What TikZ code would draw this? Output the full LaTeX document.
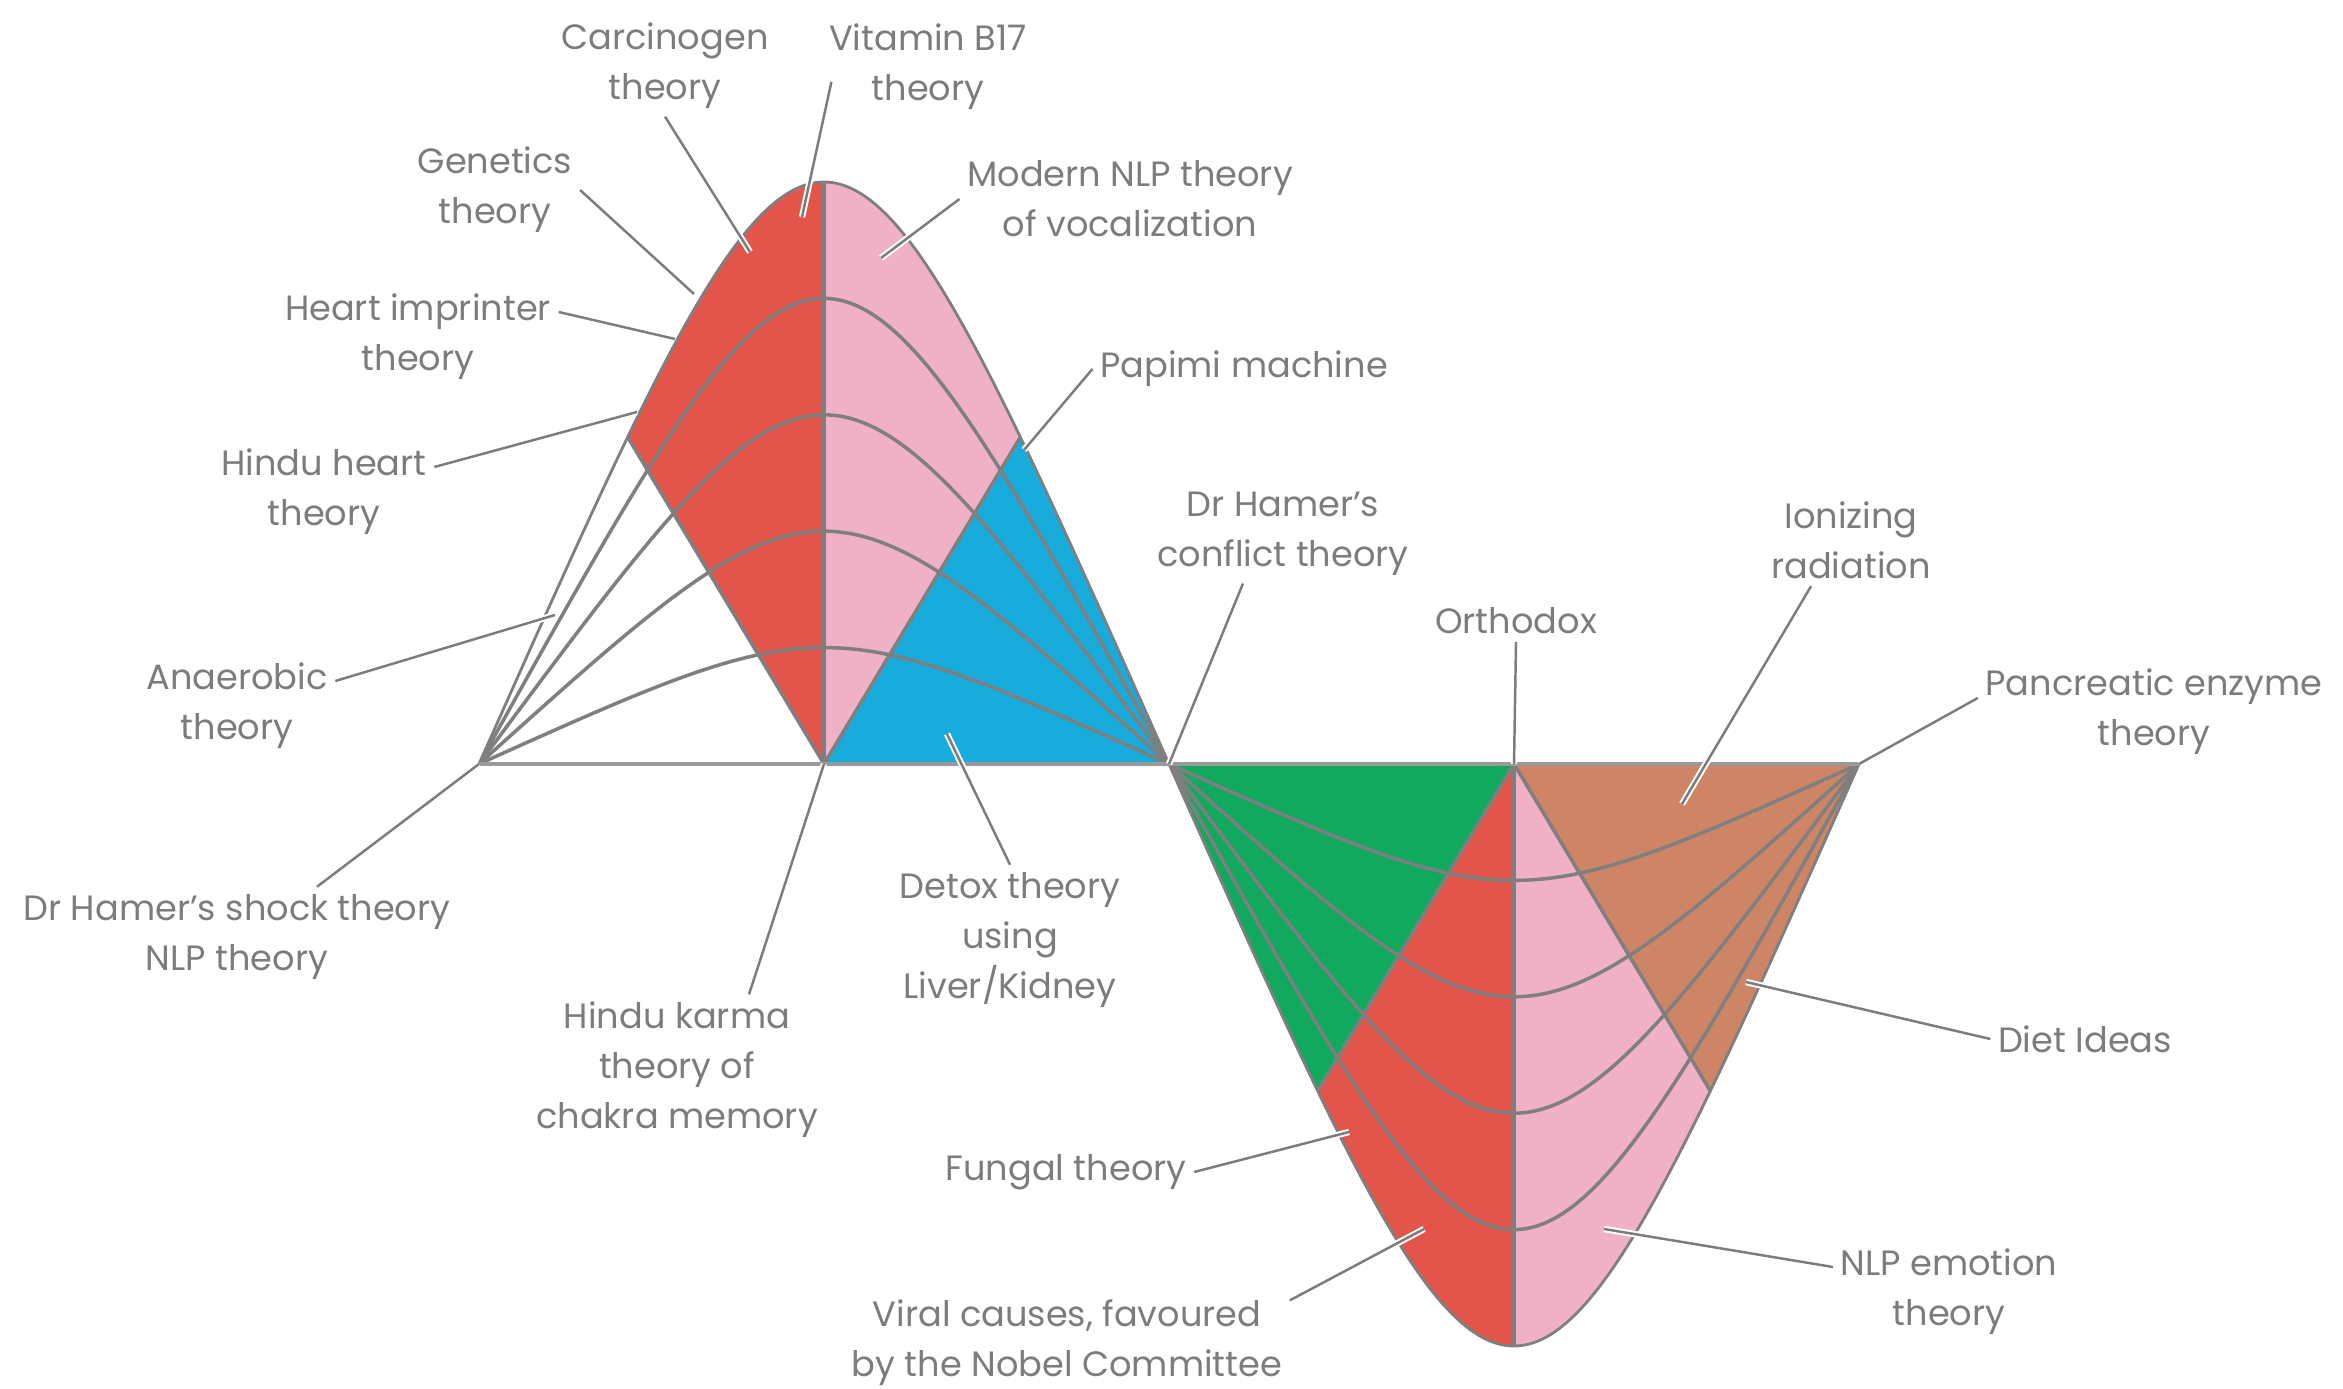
\documentclass[tikz,border=0pt]{standalone}
\usepackage{fontspec}
\setmainfont{Poppins}
\usetikzlibrary{calc}
\definecolor{redfill}{HTML}{E3554A}
\definecolor{pinkfill}{HTML}{F0B1C7}
\definecolor{bluefill}{HTML}{17ACDC}
\definecolor{greenfill}{HTML}{10A95D}
\definecolor{brownfill}{HTML}{CD8566}
\definecolor{wavegray}{HTML}{7F7F7F}
\definecolor{labelgray}{HTML}{7C7C7C}
\begin{document}
\begin{tikzpicture}[x=0.01cm, y=-0.01cm, font=\fontsize{10}{14.2}\selectfont]
    \tikzstyle{wave} = [draw=wavegray, line width=0.8pt]
    \tikzstyle{grid} = [draw=wavegray, line width=1pt]
    \tikzstyle{base} = [draw=wavegray!80, line width=1pt]
    \tikzstyle{label} = [text=labelgray, align=center, inner sep=2pt]
    \tikzstyle{pointer} = [draw=labelgray, line width=0.7pt, preaction={draw=white, line width=1.8pt}]
    \useasboundingbox (0, 0) rectangle (2343, 1389);

    \coordinate (O) at (479, 764);
    \coordinate (A) at (824, 764);
    \coordinate (C) at (1169, 764);
    \coordinate (B) at (1514, 764);
    \coordinate (E) at (1859, 764);
    \coordinate (top) at (824, 182);
    \coordinate (bottom) at (1514, 1346);

    % upper lobe
    \begin{scope}
        \clip (O) .. controls (824, -12) and (824, -12) .. (C) -- cycle;
        \fill[redfill] (A) -- (430, 108) -- (430, -100) -- (824, -100) -- cycle;
        \fill[pinkfill] (A) -- (824, -100) -- (1218, -100) -- (1218, 108) -- cycle;
        \fill[bluefill] (A) -- (1218, 108) -- (1400, 108) -- (1400, 764) -- cycle;
        \foreach \k in {0.2, 0.4, 0.6, 0.8}
            \draw[grid] (O) .. controls (824, {764 - 776*\k}) and (824, {764 - 776*\k}) .. (C);
        \draw[grid] (430, 108) -- (A) -- (1218, 108);
    \end{scope}
    \draw[grid] (A) -- (top);
    \draw[wave] (O) .. controls (824, -12) and (824, -12) .. (C);

    % lower lobe
    \begin{scope}
        \clip (C) .. controls (1514, 1540) and (1514, 1540) .. (E) -- cycle;
        \fill[greenfill] (B) -- (1120, 1420) -- (1000, 1420) -- (1000, 764) -- cycle;
        \fill[redfill] (B) -- (1120, 1420) -- (1120, 1500) -- (1514, 1500) -- cycle;
        \fill[pinkfill] (B) -- (1514, 1500) -- (1908, 1500) -- (1908, 1420) -- cycle;
        \fill[brownfill] (B) -- (1908, 1420) -- (2000, 1420) -- (2000, 764) -- cycle;
        \foreach \k in {0.2, 0.4, 0.6, 0.8}
            \draw[grid] (C) .. controls (1514, {764 + 776*\k}) and (1514, {764 + 776*\k}) .. (E);
        \draw[grid] (1120, 1420) -- (B) -- (1908, 1420);
    \end{scope}
    \draw[grid] (B) -- (bottom);
    \draw[wave] (C) .. controls (1514, 1540) and (1514, 1540) .. (E);
    \draw[base] (O) -- (E);

    % labels
    \node[label] (carc) at (665, 66) {Carcinogen\\theory};
    \node[label] (vit) at (928, 67) {Vitamin B17\\theory};
    \node[label] (gen) at (495, 190) {Genetics\\theory};
    \node[label] (mod) at (1130, 199) {Modern NLP theory\\of vocalization};
    \node[label] (heart) at (418, 337) {Heart imprinter\\theory};
    \node[label] (pap) at (1244, 369) {Papimi machine};
    \node[label] (hheart) at (324, 492) {Hindu heart\\theory};
    \node[label] (conf) at (1283, 534) {Dr Hamer’s\\conflict theory};
    \node[label] (ion) at (1851, 540) {Ionizing\\radiation};
    \node[label] (orth) at (1516, 621) {Orthodox};
    \node[label] (anaer) at (237, 706) {Anaerobic\\theory};
    \node[label] (panc) at (2154, 712) {Pancreatic enzyme\\theory};
    \node[label] (shock) at (237, 937) {Dr Hamer’s shock theory\\NLP theory};
    \node[label] (detox) at (1010, 940) {Detox theory\\using\\Liver/Kidney};
    \node[label] (karma) at (677, 1070) {Hindu karma\\theory of\\chakra memory};
    \node[label] (diet) at (2085, 1039) {Diet Ideas};
    \node[label] (fung) at (1066, 1172) {Fungal theory};
    \node[label] (viral) at (1067, 1343) {Viral causes, favoured\\by the Nobel Committee};
    \node[label] (nlpe) at (1949, 1292) {NLP emotion\\theory};

    % pointer ends
    \coordinate (carc-end) at (750, 252);
    \coordinate (vit-end) at (802, 217);
    \coordinate (gen-end) at (694, 294);
    \coordinate (mod-end) at (881, 258);
    \coordinate (heart-end) at (675, 339);
    \coordinate (pap-end) at (1024, 450);
    \coordinate (hheart-end) at (637, 412);
    \coordinate (ion-end) at (1682, 804);
    \coordinate (anaer-end) at (555, 615);
    \coordinate (detox-end) at (947, 734);
    \coordinate (diet-end) at (1746, 982);
    \coordinate (fung-end) at (1349, 1132);
    \coordinate (viral-end) at (1424, 1229);
    \coordinate (nlpe-end) at (1604, 1229);

    \draw[pointer] (carc.south) -- (carc-end);
    \draw[pointer] ($(vit.west) + (10, 15)$) -- (vit-end);
    \draw[pointer] (gen.east) -- (gen-end);
    \draw[pointer] (mod.west) -- (mod-end);
    \draw[pointer] ($(heart.east) + (0, -25)$) -- (heart-end);
    \draw[pointer] (pap.west) -- (pap-end);
    \draw[pointer] ($(hheart.east) + (0, -25)$) -- (hheart-end);
    \draw[pointer] ($(conf.south) + (-40, 0)$) -- (C);
    \draw[pointer] ($(ion.south) + (-40, 0)$) -- (ion-end);
    \draw[pointer] (orth.south) -- (B);
    \draw[pointer] ($(anaer.east) + (0, -25)$) -- (anaer-end);
    \draw[pointer] ($(panc.west) + (0, -14)$) -- (E);
    \draw[pointer] ($(shock.north) + (80, 0)$) -- (O);
    \draw[pointer] (detox.north) -- (detox-end);
    \draw[pointer] ($(karma.north) + (72, 0)$) -- (A);
    \draw[pointer] (diet.west) -- (diet-end);
    \draw[pointer] (fung.east) -- (fung-end);
    \draw[pointer] ($(viral.north east) + (0, 8)$) -- (viral-end);
    \draw[pointer] ($(nlpe.west) + (0, -25)$) -- (nlpe-end);
\end{tikzpicture}
\end{document}
